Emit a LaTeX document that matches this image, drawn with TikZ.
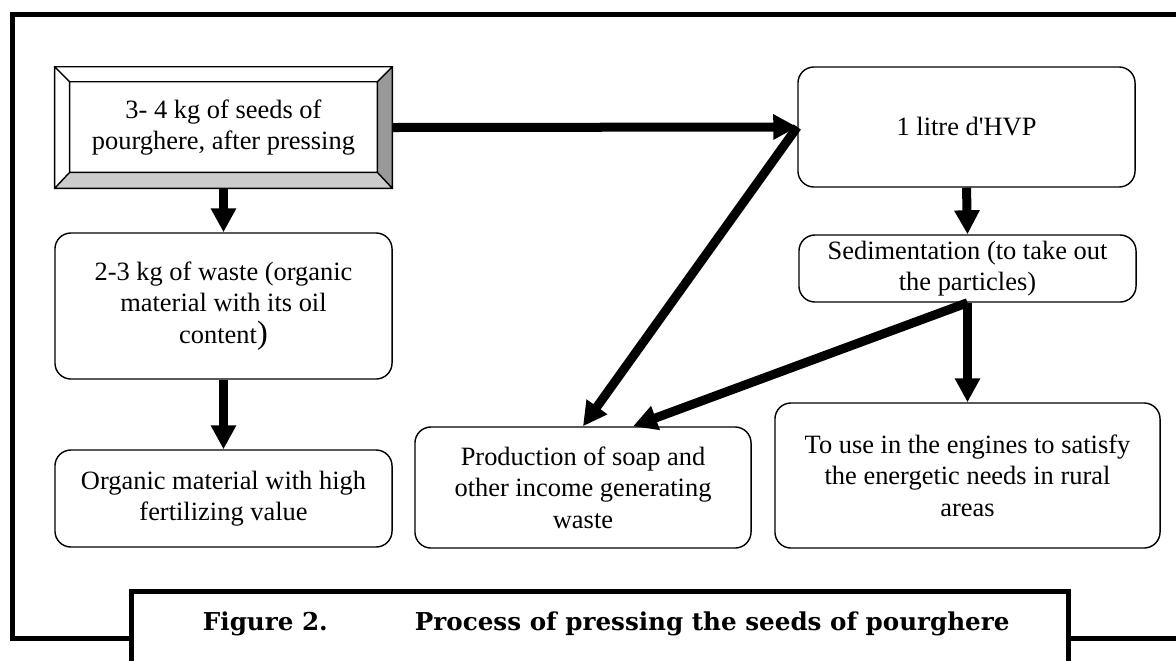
\documentclass[tikz,border=0pt]{standalone}
\usepackage{fontspec}
\setmainfont{Liberation Serif}
\newfontfamily\captionfont{DejaVu Serif}
\usetikzlibrary{arrows.meta}

\definecolor{bevelright}{gray}{0.6}
\definecolor{bevelbottom}{gray}{0.8}

\begin{document}
\begin{tikzpicture}[x=0.025cm,y=-0.025cm,
  every node/.style={font=\fontsize{18.8}{22.5}\selectfont},
  stepbox/.style={draw,line width=1pt,rounded corners=0.4cm,align=center,inner sep=0pt,minimum width=8.425cm},
  flow/.style={line width=0.225cm,-{Triangle[length=0.6cm,width=0.6cm]}},
  frameline/.style={line width=0.125cm},
  captiontext/.style={anchor=base west,font=\captionfont\bfseries\fontsize{17.5}{21}\selectfont}]
	\clip (0,0) rectangle (1176,660);
	\fill[white] (0,0) rectangle (1176,660);
	\draw[frameline] (1200,14.5) -- (12.5,14.5) -- (12.5,638.5) -- (1200,638.5);

	\node[align=center,inner sep=0pt,minimum width=8.425cm,minimum height=3.025cm] (seeds) at (223.5,127.5) {3- 4 kg of seeds of\\pourghere, after pressing};
	\coordinate (s1) at ([shift={(0.375cm,-0.375cm)}]seeds.north west);
	\coordinate (s2) at ([shift={(-0.375cm,-0.375cm)}]seeds.north east);
	\coordinate (s3) at ([shift={(-0.375cm,0.4cm)}]seeds.south east);
	\coordinate (s4) at ([shift={(0.375cm,0.4cm)}]seeds.south west);
	\fill[bevelright] (seeds.north east) -- (seeds.south east) -- (s3) -- (s2) -- cycle;
	\fill[bevelbottom] (seeds.south west) -- (seeds.south east) -- (s3) -- (s4) -- cycle;
	\draw[line width=1pt] (seeds.north west) rectangle (seeds.south east) (s1) rectangle (s3)
		(seeds.north west) -- (s1) (seeds.north east) -- (s2) (seeds.south east) -- (s3) (seeds.south west) -- (s4);

	\node[stepbox,minimum height=3.65cm] (waste) at (223.5,306) {2-3 kg of waste (organic\\material with its oil\\content{\fontsize{23}{22.5}\selectfont)}};
	\node[stepbox,minimum height=2.425cm] (organic) at (223.5,498.5) {Organic material with high\\fertilizing value};
	\node[stepbox,minimum height=3cm] (litre) at (966.5,127) {1 litre d\textquotesingle HVP};
	\node[stepbox,minimum height=1.675cm] (sedim) at (967.5,268.5) {Sedimentation (to take out\\the particles)};
	\node[stepbox,minimum width=9.625cm,minimum height=3.625cm] (engines) at (967.5,475.5) {To use in the engines to satisfy\\the energetic needs in rural\\areas};
	\node[stepbox,minimum width=8.4cm,minimum height=3.025cm] (soap) at (583,487.5) {Production of soap and\\other income generating\\waste};

	\draw[flow] (seeds.east) -- (litre.west);
	\draw[flow] (seeds.south) -- (waste.north);
	\draw[flow] (waste.south) -- (organic.north);
	\draw[flow] (litre.south) -- (sedim.north);
	\draw[flow] (sedim.south) -- (engines.north);
	\draw[flow] (litre.west) -- (soap.north);
	\draw[flow] (sedim.south) -- ([xshift=1.25cm]soap.north);

	\draw[frameline,fill=white] (131.5,700) -- (131.5,591.5) -- (1068.5,591.5) -- (1068.5,700);
	\node[captiontext] (fig) at (198,630) {Figure 2.};
	\node[captiontext] (title) at (410,630) {Process of pressing the seeds of pourghere};
\end{tikzpicture}
\end{document}
